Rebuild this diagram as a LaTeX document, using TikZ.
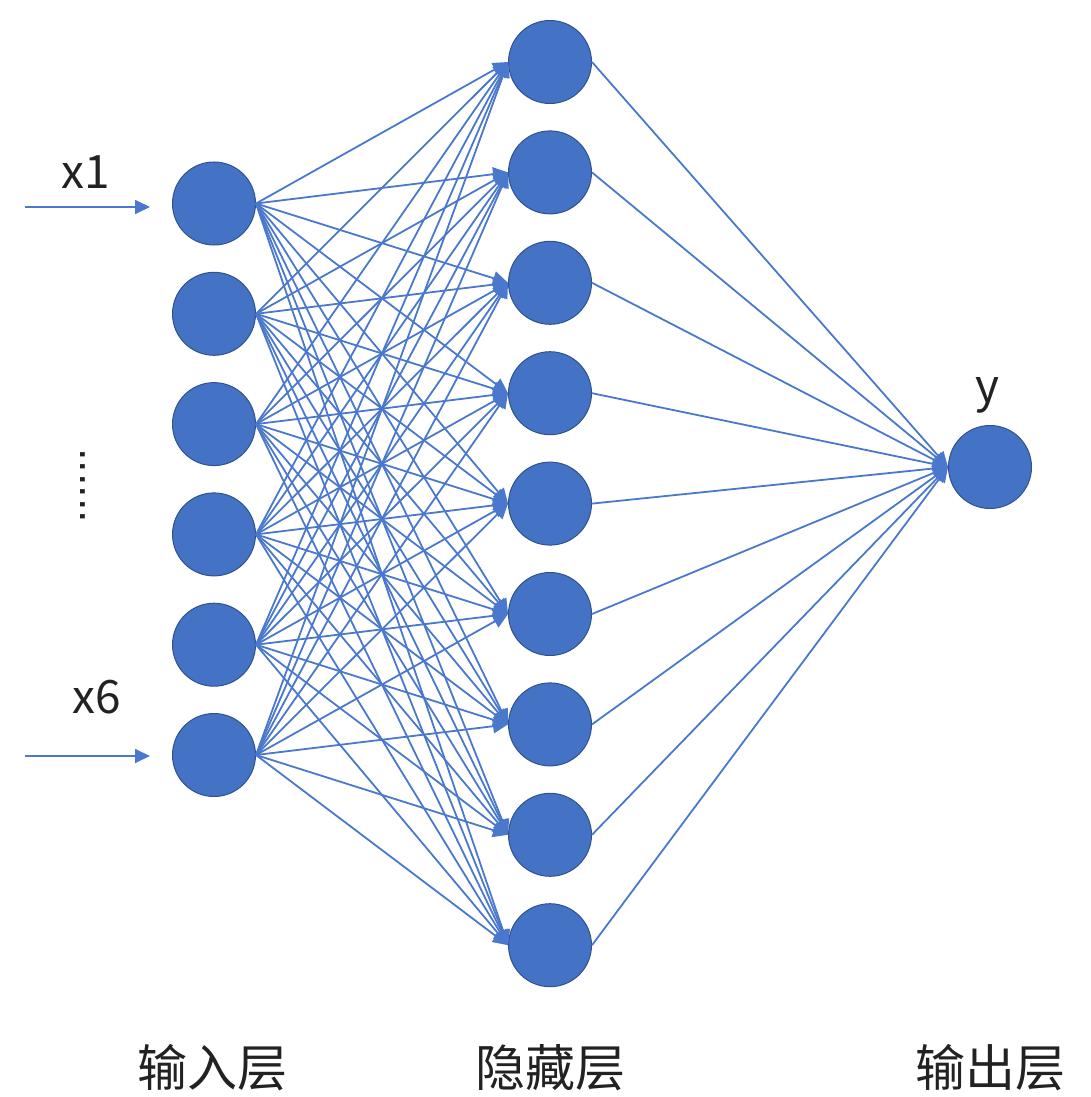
\documentclass[tikz,border=0pt]{standalone}
\usepackage{fontspec}
\newfontfamily\cjk{Noto Sans CJK SC}
\usetikzlibrary{arrows.meta}
\definecolor{nodeblue}{HTML}{4472C4}
\definecolor{nodeedge}{HTML}{2F528F}
\definecolor{lineblue}{HTML}{4A78CC}
\definecolor{txt}{HTML}{222222}
\tikzset{
  neuron/.style={circle, fill=nodeblue, draw=nodeedge, line width=1pt, minimum size=83pt, inner sep=0pt},
  conn/.style={draw=lineblue, line width=1.8pt, -{Triangle[length=15pt,width=14pt]}},
  lab/.style={font=\cjk\light\fontsize{46}{50}\selectfont, text=txt, inner sep=0pt},
  layerlab/.style={font=\cjk\fontsize{50}{56}\selectfont, text=txt, inner sep=0pt},
}
\newcommand{\light}{}
\begin{document}
\begin{tikzpicture}[x=1pt,y=-1pt]
\useasboundingbox (0,0) rectangle (1091,1097);
% input layer
\foreach \i in {1,...,6} {
  \node[neuron] (i\i) at (214, {203.5+110.3*(\i-1)}) {};
}
% hidden layer
\foreach \j in {1,...,9} {
  \node[neuron] (h\j) at (550, {62+110.4*(\j-1)}) {};
}
% output
\node[neuron] (o) at (990,467) {};
% connections input -> hidden
\foreach \i in {1,...,6} {
  \foreach \j in {1,...,9} {
    \draw[conn] (i\i.east) -- (h\j.west);
  }
}
% hidden -> output
\foreach \j in {1,...,9} {
  \draw[conn] (h\j.east) -- (o.west);
}
% input arrows
\coordinate (s1) at (25,207);
\coordinate (s6) at (25,756);
\coordinate (e1) at (150,207);
\coordinate (e6) at (150,756);
\draw[conn] (s1) -- (e1);
\draw[conn] (s6) -- (e6);
% labels
\node[lab] (x1) at (86,172) {x1};
\node[lab] (x6) at (97,697) {x6};
\node[lab] (y) at (987,395) {y};
\node[text=txt, font=\fontspec{Liberation Sans}\fontsize{45}{45}\selectfont, rotate=-90, inner sep=0pt, anchor=west] (dots) at (83,448) {......};
\node[layerlab] (l1) at (212,1068) {输入层};
\node[layerlab] (l2) at (550,1068) {隐藏层};
\node[layerlab] (l3) at (990,1068) {输出层};
\end{tikzpicture}
\end{document}
